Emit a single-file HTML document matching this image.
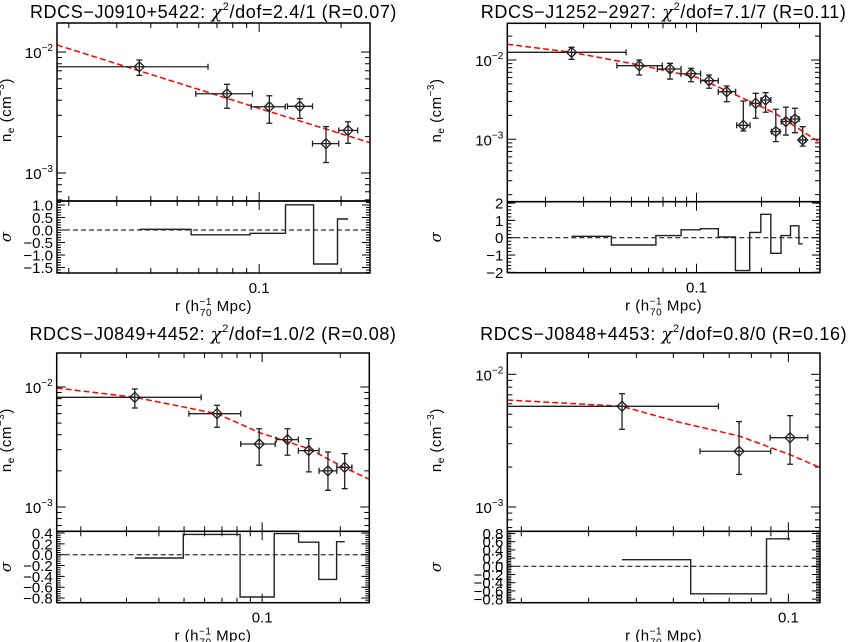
<!DOCTYPE html>
<html><head><meta charset="utf-8">
<style>
html,body{margin:0;padding:0;background:#fff;}
svg{display:block;font-family:"Liberation Sans",sans-serif;}
</style></head>
<body>
<svg id="fig" width="850" height="642" viewBox="0 0 850 642" xmlns="http://www.w3.org/2000/svg"></svg>
<script>
// ---------- Panel 1: RDCS-J0910+5422 ----------
const p1_r   = [0.0363, 0.0762, 0.109, 0.141, 0.176, 0.212];
const p1_rlo = [0.0181, 0.0585, 0.0935, 0.127, 0.157, 0.196];
const p1_rhi = [0.0649, 0.0945, 0.1247, 0.157, 0.196, 0.230];
const p1_n   = [0.00756, 0.00452, 0.00353, 0.00356, 0.00175, 0.00225];
const p1_nlo = [0.00641, 0.00343, 0.00258, 0.00283, 0.00122, 0.00176];
const p1_nhi = [0.00859, 0.00541, 0.00435, 0.00411, 0.00242, 0.00265];
const p1_modelR = [0.0181, 0.1, 0.2553];
const p1_modelN = [0.01143, 0.00342, 0.00178];
const p1_resid = [0.03, -0.19, -0.13, 1.01, -1.36, 0.44];
const p1_residTicks = ["1.0","0.5","0.0","-0.5","-1.0","-1.5"];

// ---------- Panel 2: RDCS-J1252-2927 ----------
const p2_r   = [0.0264, 0.0543, 0.0754, 0.0944, 0.1143, 0.138, 0.1648, 0.188, 0.209, 0.233, 0.2595, 0.2858, 0.3104];
const p2_rlo = [0.0133, 0.0428, 0.0659, 0.0848, 0.1045, 0.1262, 0.1535, 0.177, 0.199, 0.2225, 0.247, 0.274, 0.301];
const p2_rhi = [0.0472, 0.0695, 0.0848, 0.1045, 0.1262, 0.1518, 0.177, 0.199, 0.221, 0.2435, 0.274, 0.2985, 0.320];
const p2_n   = [0.0125, 0.00848, 0.0077, 0.00671, 0.00548, 0.00398, 0.00150, 0.00284, 0.00313, 0.00125, 0.00167, 0.0018, 0.00098];
const p2_nlo = [0.0102, 0.00647, 0.00575, 0.00532, 0.0044, 0.00298, 0.00127, 0.00184, 0.00219, 0.000933, 0.00113, 0.00121, 0.00082];
const p2_nhi = [0.01445, 0.0100, 0.00908, 0.00786, 0.00647, 0.0047, 0.00304, 0.0038, 0.00387, 0.00239, 0.00254, 0.00246, 0.00144];
const p2_modelR = [0.0133, 0.0264, 0.0543, 0.1, 0.138, 0.231, 0.3733];
const p2_modelN = [0.01578, 0.0125, 0.00865, 0.00605, 0.0041, 0.00213, 0.000906];
const p2_resid = [0.08, -0.42, 0.12, 0.46, 0.52, 0.04, -1.9, 0.31, 1.35, -0.9, 0.12, 0.69, -0.35];
const p2_residTicks = ["2","1","0","-1","-2"];

// ---------- Panel 3: RDCS-J0849+4452 ----------
const p3_r   = [0.0323, 0.067, 0.0974, 0.1252, 0.1513, 0.1793, 0.208];
const p3_rlo = [0.01615, 0.0522, 0.0827, 0.1133, 0.1379, 0.1657, 0.194];
const p3_rhi = [0.0582, 0.0827, 0.1123, 0.1379, 0.1657, 0.194, 0.2218];
const p3_n   = [0.0082, 0.00599, 0.00335, 0.00364, 0.00295, 0.0020, 0.00214];
const p3_nlo = [0.00668, 0.00462, 0.00223, 0.0027, 0.00196, 0.00138, 0.00142];
const p3_nhi = [0.00962, 0.00704, 0.00449, 0.00449, 0.00371, 0.00287, 0.00278];
const p3_modelR = [0.01615, 0.0323, 0.067, 0.0983, 0.1513, 0.208, 0.2588];
const p3_modelN = [0.00981, 0.0082, 0.00599, 0.00414, 0.00306, 0.00212, 0.0017];
const p3_resid = [-0.06, 0.375, -0.78, 0.39, 0.23, -0.455, 0.24];
const p3_residTicks = ["0.4","0.2","0.0","-0.2","-0.4","-0.6","-0.8"];

// ---------- Panel 4: RDCS-J0848+4453 ----------
const p4_r   = [0.0367, 0.0743, 0.101];
const p4_rlo = [0.01838, 0.0587, 0.0896];
const p4_rhi = [0.0656, 0.0899, 0.1124];
const p4_n   = [0.00574, 0.00263, 0.00333];
const p4_nlo = [0.00385, 0.00176, 0.0021];
const p4_nhi = [0.00714, 0.0044, 0.00488];
const p4_modelR = [0.01838, 0.0367, 0.0515, 0.0743, 0.101, 0.121];
const p4_modelN = [0.0064, 0.00574, 0.00437, 0.00343, 0.00248, 0.00198];
const p4_resid = [0.16, -0.67, 0.67];
const p4_residTicks = ["0.8","0.6","0.4","0.2","0.0","-0.2","-0.4","-0.6","-0.8"];

const NS = "http://www.w3.org/2000/svg";
const svg = document.getElementById('fig');
function mk(tag, attrs, parent){
  const e = document.createElementNS(NS, tag);
  for (const k in attrs) e.setAttribute(k, attrs[k]);
  (parent||svg).appendChild(e);
  return e;
}
const L10 = Math.log10;

const panels = [
  {id:'p1', title:['RDCS\u2212J0910+5422: ','2.4/1 (R=0.07)'], L:57, R:370, T:23, M:201, B:273, ox:0, oy:0,
   xd:[0.0181,0.2553], yd:[0.01738,0.000587], rd:[1.16,-1.72],
   r:p1_r, rlo:p1_rlo, rhi:p1_rhi, n:p1_n, nlo:p1_nlo, nhi:p1_nhi, mr:p1_modelR, mn:p1_modelN, res:p1_resid, rt:p1_residTicks},
  {id:'p2', title:['RDCS\u2212J1252\u22122927: ','7.1/7 (R=0.11)'], L:507.3, R:820, T:23.3, M:201.7, B:272.7, ox:425, oy:0,
   xd:[0.0133,0.3733], yd:[0.02904,0.000163], rd:[2.08,-2.02],
   r:p2_r, rlo:p2_rlo, rhi:p2_rhi, n:p2_n, nlo:p2_nlo, nhi:p2_nhi, mr:p2_modelR, mn:p2_modelN, res:p2_resid, rt:p2_residTicks},
  {id:'p3', title:['RDCS\u2212J0849+4452: ','1.0/2 (R=0.08)'], L:56.7, R:369.3, T:353, M:531.3, B:602.7, ox:0, oy:322,
   xd:[0.01615,0.2588], yd:[0.0192,0.000627], rd:[0.432,-0.886],
   r:p3_r, rlo:p3_rlo, rhi:p3_rhi, n:p3_n, nlo:p3_nlo, nhi:p3_nhi, mr:p3_modelR, mn:p3_modelN, res:p3_resid, rt:p3_residTicks},
  {id:'p4', title:['RDCS\u2212J0848+4453: ','0.8/0 (R=0.16)'], L:507.3, R:820, T:353, M:531.3, B:602.7, ox:425, oy:322,
   xd:[0.01838,0.121], yd:[0.01447,0.000656], rd:[0.854,-0.888],
   r:p4_r, rlo:p4_rlo, rhi:p4_rhi, n:p4_n, nlo:p4_nlo, nhi:p4_nhi, mr:p4_modelR, mn:p4_modelN, res:p4_resid, rt:p4_residTicks}
];

panels.forEach(p => {
  const g = mk('g', {});
  
  
  const X = v => p.L + (L10(v) - L10(p.xd[0])) / (L10(p.xd[1]) - L10(p.xd[0])) * (p.R - p.L);
  const Y = v => p.T + (L10(p.yd[0]) - L10(v)) / (L10(p.yd[0]) - L10(p.yd[1])) * (p.M - p.T);
  const RY = v => p.M + (p.rd[0] - v) / (p.rd[0] - p.rd[1]) * (p.B - p.M);
  const cx = (p.L + p.R) / 2;

  // title
  const t = mk('text', {x:cx, y:p.oy+18, 'text-anchor':'middle', 'font-size':'18', 'letter-spacing':'0.6', fill:'#000'}, g);
  
  
  t.appendChild(document.createTextNode(p.title[0]));
  const chi = mk('tspan', {'font-family':'"DejaVu Serif",serif','font-style':'italic'}, t); chi.textContent = '\u03C7';
  const sup = mk('tspan', {dy:'-8','font-size':'11'}, t); sup.textContent = '2';
  const rest = mk('tspan', {dy:'8'}, t); rest.textContent = '/dof=' + p.title[1];

  // ticks
  const tk = mk('g', {stroke:'#000','stroke-width':'1'}, g);
  
  
  for (let d = -3; d <= 0; d++) for (let k = 1; k <= 9; k++) {
    const v = k * Math.pow(10, d);
    if (v < p.xd[0] || v > p.xd[1]) continue;
    const major = Math.abs(v - 0.1) < 1e-9;
    const len = major ? 9 : 5;
    const x = X(v);
    mk('line', {x1:x, x2:x, y1:p.T, y2:p.T+len}, tk);
    mk('line', {x1:x, x2:x, y1:p.M, y2:p.M-len}, tk);
    mk('line', {x1:x, x2:x, y1:p.M, y2:p.M+len}, tk);
    mk('line', {x1:x, x2:x, y1:p.B, y2:p.B-len}, tk);
    if (major) {
      const xl = mk('text', {x:x, y:p.B+20, 'text-anchor':'middle','font-size':'15',stroke:'none',fill:'#000'}, g);
      
      
      xl.textContent = '0.1';
    }
  }
  for (let d = -4; d <= -1; d++) for (let k = 1; k <= 9; k++) {
    const v = k * Math.pow(10, d);
    if (v > p.yd[0] || v < p.yd[1]) continue;
    const y = Y(v);
    const len = k === 1 ? 9 : 5;
    mk('line', {x1:p.L, x2:p.L+len, y1:y, y2:y}, tk);
    mk('line', {x1:p.R, x2:p.R-len, y1:y, y2:y}, tk);
    if (k === 1) {
      const yl = mk('text', {x:p.L-4, y:y+6, 'text-anchor':'end','font-size':'15',fill:'#000',stroke:'none'}, g);
      
      
      yl.appendChild(document.createTextNode('10'));
      const s = mk('tspan', {dy:'-7','font-size':'10'}, yl); s.textContent = '\u2212' + (-d);
    }
  }
  const rv = p.rt.map(Number);
  const step = Math.abs(rv[0] - rv[1]);
  rv.forEach((v, i) => {
    const y = RY(v);
    mk('line', {x1:p.L, x2:p.L+8, y1:y, y2:y}, tk);
    mk('line', {x1:p.R, x2:p.R-8, y1:y, y2:y}, tk);
    const rl = mk('text', {x:p.L-4, y:y+5.5, 'text-anchor':'end','font-size':'15',fill:'#000',stroke:'none'}, g);
    
    
    rl.textContent = p.rt[i].replace('-', '\u2212');
  });
  for (let v = rv[rv.length-1] - step; v <= rv[0] + step; v += step/5) {
    if (v > p.rd[0] || v < p.rd[1]) continue;
    const y = RY(v);
    mk('line', {x1:p.L, x2:p.L+4, y1:y, y2:y}, tk);
    mk('line', {x1:p.R, x2:p.R-4, y1:y, y2:y}, tk);
  }

  // axis titles
  const xt = mk('text', {x:cx, y:p.B+38, 'text-anchor':'middle','font-size':'15','letter-spacing':'0.5',fill:'#000'}, g);
  
  
  xt.appendChild(document.createTextNode('r  (h'));
  const a1 = mk('tspan', {dy:'-6','font-size':'10'}, xt); a1.textContent = '\u22121';
  const a2 = mk('tspan', {dx:'-12', dy:'11','font-size':'10'}, xt); a2.textContent = '70';
  const a3 = mk('tspan', {dy:'-5'}, xt); a3.textContent = ' Mpc)';

  const yx = p.ox + (p.ox ? 16 : 11), yy = (p.T + p.M) / 2 - 2;
  const yt = mk('text', {x:yx, y:yy, 'text-anchor':'middle','font-size':'15','letter-spacing':'0.5',fill:'#000', transform:`rotate(-90 ${yx} ${yy})`}, g);
  
  
  yt.appendChild(document.createTextNode('n'));
  const b1 = mk('tspan', {dy:'3','font-size':'10'}, yt); b1.textContent = 'e';
  const b2 = mk('tspan', {dy:'-3'}, yt); b2.textContent = ' (cm';
  const b3 = mk('tspan', {dy:'-7','font-size':'10'}, yt); b3.textContent = '\u22123';
  const b4 = mk('tspan', {dy:'7'}, yt); b4.textContent = ')';

  const sx = p.ox + (p.ox ? 16 : 11), sy = (p.M + p.B) / 2;
  const st = mk('text', {x:sx, y:sy, 'text-anchor':'middle','font-size':'15','font-style':'italic','font-family':'"DejaVu Serif",serif',fill:'#000', transform:`rotate(-90 ${sx} ${sy})`}, g);
  
  
  st.textContent = '\u03C3';

  const cid = 'clip-' + p.id;
  const cp = mk('clipPath', {id:cid}, g);
  mk('rect', {x:p.L, y:p.T, width:p.R-p.L, height:p.M-p.T}, cp);

  const md = p.mr.map((v,i) => (i?'L':'M') + X(v).toFixed(1) + ' ' + Y(p.mn[i]).toFixed(1)).join(' ');
  const ml = mk('path', {d:md, fill:'none', stroke:'#ff0000','stroke-width':'1.5','stroke-dasharray':'6 3','clip-path':`url(#${cid})`}, g);
  
  

  p.r.forEach((v, i) => {
    const pg = mk('g', {stroke:'#222','stroke-width':'1.3', fill:'none','clip-path':`url(#${cid})`}, g);
    
    
    const x = X(v), y = Y(p.n[i]);
    const x0 = X(p.rlo[i]), x1 = X(p.rhi[i]), y0 = Y(p.nlo[i]), y1 = Y(p.nhi[i]);
    mk('line', {x1:x0, x2:x1, y1:y, y2:y}, pg);
    mk('line', {x1:x0, x2:x0, y1:y-3, y2:y+3}, pg);
    mk('line', {x1:x1, x2:x1, y1:y-3, y2:y+3}, pg);
    mk('line', {x1:x, x2:x, y1:y0, y2:y1}, pg);
    mk('line', {x1:x-3, x2:x+3, y1:y0, y2:y0}, pg);
    mk('line', {x1:x-3, x2:x+3, y1:y1, y2:y1}, pg);
    mk('path', {d:`M${x-5} ${y} L${x} ${y-5} L${x+5} ${y} L${x} ${y+5} Z`, fill:'none'}, pg);
  });

  const zl = mk('line', {x1:p.L, x2:p.R, y1:RY(0), y2:RY(0), stroke:'#000','stroke-width':'1','stroke-dasharray':'5 3'}, g);
  
  

  const n = p.r.length;
  let d = '';
  for (let i = 0; i < n; i++) {
    const xa = i === 0 ? X(p.r[0]) : X((p.r[i-1] + p.r[i]) / 2);
    const xb = i === n-1 ? X(p.r[n-1]) : X((p.r[i] + p.r[i+1]) / 2);
    const y = RY(p.res[i]);
    d += (i === 0 ? 'M' : 'L') + xa.toFixed(1) + ' ' + y.toFixed(1) + ' L' + xb.toFixed(1) + ' ' + y.toFixed(1) + ' ';
  }
  const rs = mk('path', {d:d, fill:'none', stroke:'#222','stroke-width':'1.4'}, g);
  
  

  const f1 = mk('rect', {x:p.L, y:p.T, width:p.R-p.L, height:p.M-p.T, fill:'none', stroke:'#000','stroke-width':'1.5'}, g);
  
  
  const f2 = mk('rect', {x:p.L, y:p.M, width:p.R-p.L, height:p.B-p.M, fill:'none', stroke:'#000','stroke-width':'1.5'}, g);
  
  
});
</script>
</body></html>
